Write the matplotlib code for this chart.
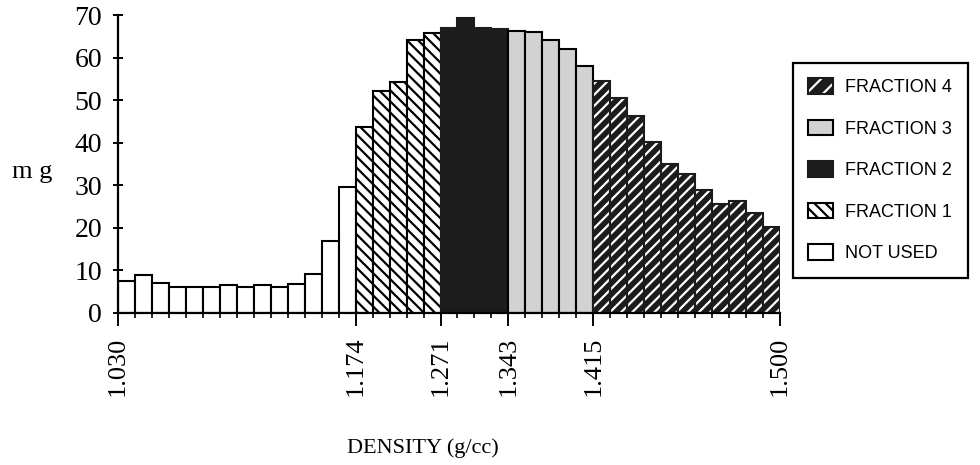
import numpy as np
import matplotlib.pyplot as plt
from matplotlib.patches import Patch

plt.rcParams['hatch.linewidth'] = 1.6

# bar heights (mg), left to right
not_used = [7.4, 8.9, 7.0, 6.0, 6.0, 6.0, 6.6, 6.0, 6.6, 6.2, 6.8, 9.1, 17.0, 29.5]
fraction1 = [43.6, 52.2, 54.3, 64.1, 65.7]
fraction2 = [67.0, 69.2, 67.0, 66.6]
fraction3 = [66.3, 65.9, 64.1, 61.9, 58.0]
fraction4 = [54.6, 50.5, 46.2, 40.2, 35.0, 32.6, 28.9, 25.6, 26.2, 23.5, 20.2]

tick_pos = [0, 14, 19, 23, 28, 39]
tick_labels = ['1.030', '1.174', '1.271', '1.343', '1.415', '1.500']
y_ticks = [0, 10, 20, 30, 40, 50, 60, 70]

serif = 'Liberation Serif'
sans = 'Liberation Sans'

fig = plt.figure(figsize=(9.8, 4.65), dpi=100)
ax = fig.add_axes([118/980, 1-313/465, (780-118)/980, (313-15)/465])

lw = 1.5
start = 0

def x_of(vals):
    global start
    x = np.arange(start, start + len(vals)) + 0.5
    start += len(vals)
    return x

x0 = x_of(not_used)
ax.bar(x0, not_used, width=1, facecolor='white', edgecolor='black', linewidth=lw)
x1 = x_of(fraction1)
ax.bar(x1, fraction1, width=1, facecolor='white', edgecolor='black', linewidth=lw, hatch='\\\\\\')
x2 = x_of(fraction2)
ax.bar(x2, fraction2, width=1, facecolor='#1c1c1c', edgecolor='#1c1c1c', linewidth=lw)
x3 = x_of(fraction3)
ax.bar(x3, fraction3, width=1, facecolor='#d2d2d2', edgecolor='black', linewidth=lw)
x4 = x_of(fraction4)
ax.bar(x4, fraction4, width=1, facecolor='#1c1c1c', edgecolor='white', linewidth=0, hatch='///')
ax.bar(x4, fraction4, width=1, fill=False, edgecolor='#1c1c1c', linewidth=lw)

ax.set_xlim(0, 39)
ax.set_ylim(0, 70)
for s in ['top', 'right']:
    ax.spines[s].set_visible(False)
ax.spines['left'].set_linewidth(1.6)
ax.spines['bottom'].set_linewidth(1.6)

ax.set_yticks(y_ticks)
ax.set_yticklabels([str(v) for v in y_ticks], fontfamily=serif, fontsize=20)
ax.tick_params(axis='y', direction='inout', length=7, width=1.4, pad=8)

ax.set_xticks(tick_pos)
ax.set_xticklabels(tick_labels, rotation=90, fontfamily=serif, fontsize=19)
ax.set_xticks(np.arange(40), minor=True)
ax.tick_params(axis='x', which='major', direction='out', length=9, width=1.4, pad=8)
ax.tick_params(axis='x', which='minor', direction='out', length=3.5, width=1.2)

fig.text(32/980, 1-172/465, 'm g', fontfamily=serif, fontsize=19, ha='center', va='center')
fig.text(423/980, 1-448/465, 'DENSITY (g/cc)', fontfamily=serif, fontsize=16, ha='center', va='center')

h4 = (Patch(facecolor='#1c1c1c', edgecolor='white', hatch='//', linewidth=0),
      Patch(fill=False, edgecolor='#1c1c1c', linewidth=lw))
h3 = Patch(facecolor='#d2d2d2', edgecolor='black', linewidth=lw)
h2 = Patch(facecolor='#1c1c1c', edgecolor='#1c1c1c', linewidth=lw)
h1 = Patch(facecolor='white', edgecolor='black', hatch='\\\\\\', linewidth=lw)
h0 = Patch(facecolor='white', edgecolor='black', linewidth=lw)
leg = fig.legend([h4, h3, h2, h1, h0],
                 ['FRACTION 4', 'FRACTION 3', 'FRACTION 2', 'FRACTION 1', 'NOT USED'],
                 loc='upper left', bbox_to_anchor=(793/980, 1-63/465), borderaxespad=0,
                 prop={'family': sans, 'size': 13}, fancybox=False, frameon=True,
                 edgecolor='black', framealpha=1, handlelength=1.35, handleheight=0.95,
                 handletextpad=0.7, labelspacing=1.3, borderpad=0.85)
leg.get_frame().set_linewidth(1.6)

fig.savefig('out.png', dpi=100)
